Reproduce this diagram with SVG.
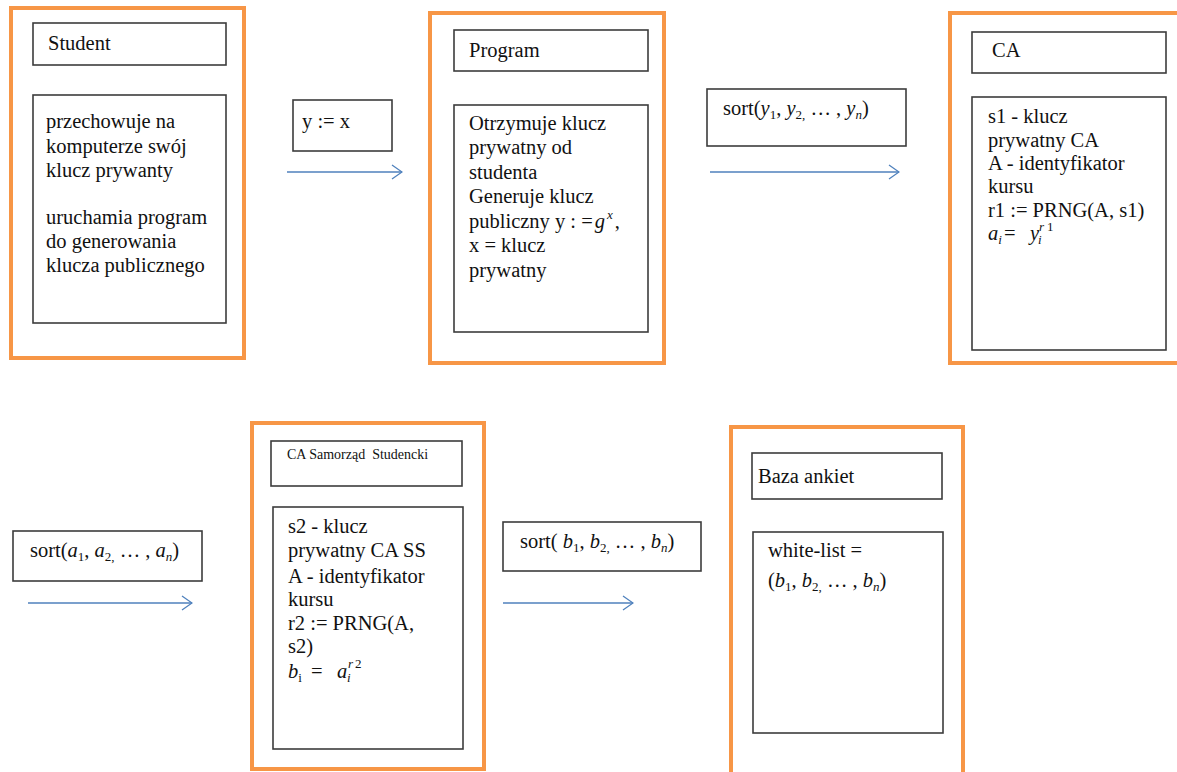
<svg xmlns="http://www.w3.org/2000/svg" width="1177" height="772" viewBox="0 0 1177 772">
<defs>
<style>
text{font-family:"Liberation Serif","Times New Roman",serif;font-size:20.5px;fill:#111;}
.m{font-style:italic;}
.sub{font-size:13px;}
.small{font-size:14px;}
.outer{fill:none;stroke:#F79646;stroke-width:4;}
.box{fill:#fff;stroke:#3c3c3c;stroke-width:1.6;}
.arrow{fill:none;stroke:#4F81BD;stroke-width:1.3;marker-end:url(#chev);}
</style>
<marker id="chev" viewBox="0 0 12 16" refX="11" refY="8" markerWidth="12" markerHeight="16" markerUnits="userSpaceOnUse" orient="auto">
<path d="M1,1 L11,8 L1,15" fill="none" stroke="#4F81BD" stroke-width="1.3"/>
</marker>
</defs>
<rect width="1177" height="772" fill="#fff"/>

<g id="student">
<rect class="outer" x="11" y="8" width="233" height="350"/>
<rect class="box" x="33" y="23" width="193" height="42"/>
<text x="48" y="50">Student</text>
<rect class="box" x="33" y="95" width="193" height="228"/>
<text x="46" y="128">przechowuje na</text>
<text x="46" y="153">komputerze swój</text>
<text x="46" y="177">klucz prywanty</text>
<text x="46" y="224">uruchamia program</text>
<text x="46" y="248">do generowania</text>
<text x="46" y="272">klucza publicznego</text>
</g>

<g id="label-yx">
<rect class="box" x="293" y="100" width="99" height="51"/>
<text x="302" y="128">y := x</text>
</g>

<g id="program">
<rect class="outer" x="430" y="13" width="234" height="350"/>
<rect class="box" x="454" y="30" width="194" height="41"/>
<text x="469" y="57">Program</text>
<rect class="box" x="454" y="105" width="194" height="227"/>
<text x="469" y="130">Otrzymuje klucz</text>
<text x="469" y="154">prywatny od</text>
<text x="469" y="179">studenta</text>
<text x="469" y="203">Generuje klucz</text>
<text x="469" y="228">publiczny y : =<tspan class="m" dx="2">g</tspan><tspan class="sub m" dx="2" dy="-9">x</tspan><tspan dx="2" dy="9">,</tspan></text>
<text x="469" y="252">x = klucz</text>
<text x="469" y="277">prywatny</text>
</g>

<g id="label-sorty">
<rect class="box" x="707" y="89" width="199" height="57"/>
<text x="723" y="115">sort(<tspan class="m">y</tspan><tspan class="sub" dy="4">1</tspan><tspan dy="-4">, </tspan><tspan class="m">y</tspan><tspan class="sub" dy="4">2,</tspan><tspan dy="-4"> … , </tspan><tspan class="m">y</tspan><tspan class="sub m" dy="4">n</tspan><tspan dy="-4">)</tspan></text>
</g>

<g id="ca">
<rect class="outer" x="950" y="13" width="240" height="350"/>
<rect class="box" x="972" y="32" width="194" height="41"/>
<text x="992" y="57">CA</text>
<rect class="box" x="972" y="97" width="194" height="253"/>
<text x="988" y="123">s1 - klucz</text>
<text x="988" y="147">prywatny CA</text>
<text x="988" y="170">A - identyfikator</text>
<text x="988" y="193">kursu</text>
<text x="988" y="217">r1 := PRNG(A, s1)</text>
<text x="988" y="240"><tspan class="m">a</tspan><tspan class="sub m" dy="4">i</tspan><tspan x="1004" dy="-4">=</tspan><tspan class="m" x="1030">y</tspan></text>
<text class="sub m" x="1038" y="244">i</text>
<text class="sub" x="1039" y="231"><tspan class="m">r</tspan><tspan dx="3">1</tspan></text>
</g>

<g id="label-sorta">
<rect class="box" x="13" y="531" width="189" height="50"/>
<text x="30" y="557">sort(<tspan class="m">a</tspan><tspan class="sub" dy="4">1</tspan><tspan dy="-4">, </tspan><tspan class="m">a</tspan><tspan class="sub" dy="4">2,</tspan><tspan dy="-4"> … , </tspan><tspan class="m">a</tspan><tspan class="sub m" dy="4">n</tspan><tspan dy="-4">)</tspan></text>
</g>

<g id="ca-ss">
<rect class="outer" x="252" y="423" width="232" height="346"/>
<rect class="box" x="271" y="441" width="191" height="45"/>
<text class="small" x="287" y="459">CA Samorząd&#160; Studencki</text>
<rect class="box" x="273" y="507" width="190" height="242"/>
<text x="288" y="533">s2 - klucz</text>
<text x="288" y="557">prywatny CA SS</text>
<text x="288" y="583">A - identyfikator</text>
<text x="288" y="606">kursu</text>
<text x="288" y="630">r2 := PRNG(A,</text>
<text x="288" y="653">s2)</text>
<text x="288" y="678"><tspan class="m">b</tspan><tspan class="sub" dy="4">i</tspan><tspan x="311" dy="-4">=</tspan><tspan class="m" x="337">a</tspan></text>
<text class="sub m" x="347" y="682">i</text>
<text class="sub" x="348" y="668"><tspan class="m">r</tspan><tspan dx="2">2</tspan></text>
</g>

<g id="label-sortb">
<rect class="box" x="503" y="522" width="198" height="49"/>
<text x="520" y="548">sort( <tspan class="m">b</tspan><tspan class="sub" dy="4">1</tspan><tspan dy="-4">, </tspan><tspan class="m">b</tspan><tspan class="sub" dy="4">2,</tspan><tspan dy="-4"> … , </tspan><tspan class="m">b</tspan><tspan class="sub m" dy="4">n</tspan><tspan dy="-4">)</tspan></text>
</g>

<g id="baza">
<rect class="outer" x="731" y="427" width="232" height="360"/>
<rect class="box" x="752" y="453" width="190" height="46"/>
<text x="758" y="483">Baza ankiet</text>
<rect class="box" x="753" y="532" width="190" height="201"/>
<text x="768" y="557">white-list =</text>
<text x="768" y="587">(<tspan class="m">b</tspan><tspan class="sub" dy="4">1</tspan><tspan dy="-4">, </tspan><tspan class="m">b</tspan><tspan class="sub" dy="4">2,</tspan><tspan dy="-4"> … , </tspan><tspan class="m">b</tspan><tspan class="sub m" dy="4">n</tspan><tspan dy="-4">)</tspan></text>
</g>

<g id="connectors">
<line class="arrow" x1="287" y1="172" x2="402" y2="172"/>
<line class="arrow" x1="710" y1="172" x2="899" y2="172"/>
<line class="arrow" x1="28" y1="603" x2="192" y2="603"/>
<line class="arrow" x1="503" y1="603" x2="633" y2="603"/>
</g>
</svg>
